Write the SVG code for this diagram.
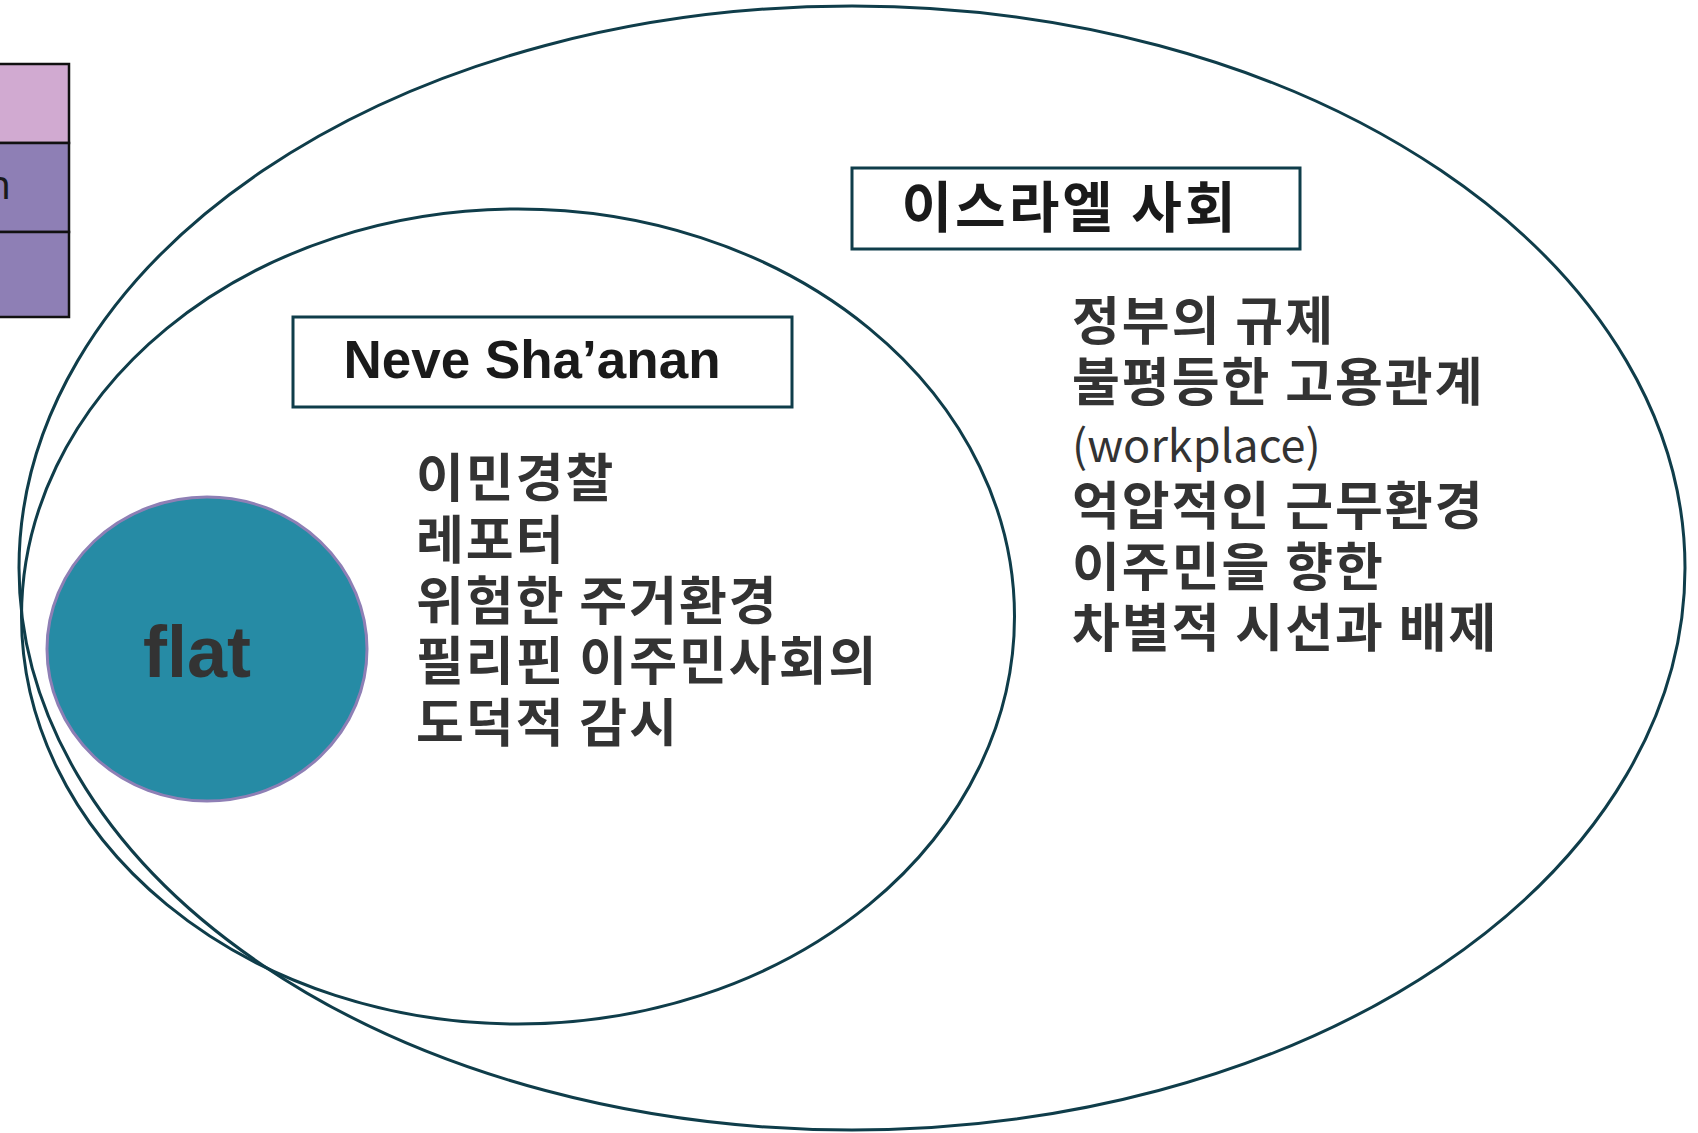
<svg xmlns="http://www.w3.org/2000/svg" width="1698" height="1133" viewBox="0 0 1698 1133">
<style>
.ring{fill:none;stroke:#0F3D4A;stroke-width:3}
.box{fill:#fff;stroke:#0F3D4A;stroke-width:3}
.ko{font-family:"Noto Sans CJK KR","Noto Sans",sans-serif;fill:#333;font-size:52px;font-weight:700;letter-spacing:2px}
.title{font-family:"Liberation Sans",Arial,sans-serif;font-weight:700;fill:#1a1a1a}
</style>
<rect width="1698" height="1133" fill="#fff"/>
<g id="legend">
<rect x="-5" y="64" width="74" height="79" fill="#D1AAD1" stroke="#111" stroke-width="2.5"/>
<rect x="-5" y="143" width="74" height="89" fill="#8E7FB5" stroke="#111" stroke-width="2.5"/>
<rect x="-5" y="232" width="74" height="85" fill="#8E7FB5" stroke="#111" stroke-width="2.5"/>
<text x="11" y="199" text-anchor="end" font-family="Noto Sans,sans-serif" font-size="40" fill="#1a1a1a">n</text>
</g>
<g id="connectors"></g>
<g id="israel-society">
<ellipse class="ring" cx="852" cy="568" rx="833" ry="562"/>
<rect class="box" x="852" y="168" width="448" height="81"/>
<text class="ko" x="1070" y="227" text-anchor="middle" style="font-size:55px;fill:#1a1a1a;letter-spacing:3px">이스라엘 사회</text>
<text class="ko" x="1072">
<tspan x="1072" y="340">정부의 규제</tspan>
<tspan x="1072" y="401">불평등한 고용관계</tspan>
<tspan x="1072" y="462" style="font-weight:400;letter-spacing:0;font-size:45px">(workplace)</tspan>
<tspan x="1072" y="525">억압적인 근무환경</tspan>
<tspan x="1072" y="586">이주민을 향한</tspan>
<tspan x="1072" y="647">차별적 시선과 배제</tspan>
</text>
</g>
<g id="neve-shaanan">
<ellipse class="ring" cx="518" cy="616.5" rx="496.5" ry="407.5"/>
<rect class="box" x="293" y="317" width="499" height="90"/>
<text class="title" x="532" y="378" text-anchor="middle" font-size="53">Neve Sha’anan</text>
<text class="ko">
<tspan x="416" y="497">이민경찰</tspan>
<tspan x="416" y="559">레포터</tspan>
<tspan x="416" y="620">위험한 주거환경</tspan>
<tspan x="416" y="680">필리핀 이주민사회의</tspan>
<tspan x="416" y="742">도덕적 감시</tspan>
</text>
</g>
<g id="flat">
<ellipse cx="207" cy="649" rx="160" ry="152" fill="#268BA5" stroke="#8E7FB5" stroke-width="3"/>
<text class="title" x="197" y="677" text-anchor="middle" font-size="72" style="fill:#333">flat</text>
</g>
</svg>
